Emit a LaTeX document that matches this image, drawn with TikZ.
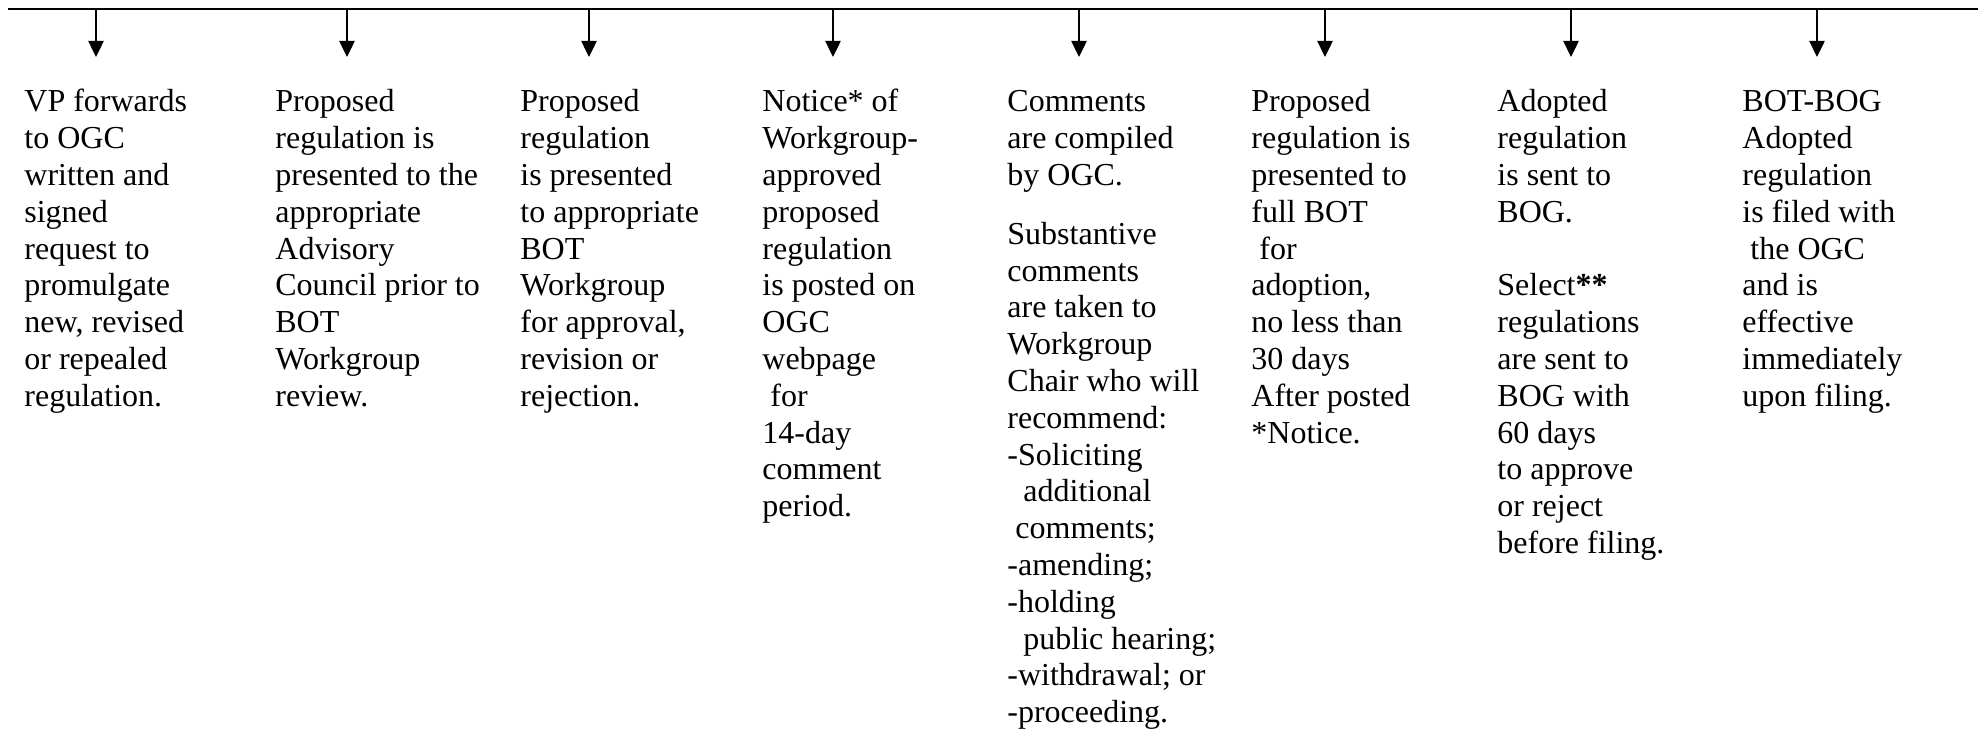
\documentclass[tikz,border=0pt]{standalone}
\usepackage{fontspec}
\setmainfont{Liberation Serif}
\usetikzlibrary{arrows.meta}
\newcommand{\colfont}{\fontsize{16}{18.4}\selectfont}
\newcommand{\indentby}[1]{\hspace*{#1pt}}
\tikzset{
  rule/.style={line width=1.25pt, line cap=butt},
  drop/.style={line width=1.25pt, -{Triangle[length=8pt,width=7.5pt]}},
  coltext/.style={anchor=base west, inner sep=0pt, font=\colfont, align=left}
}
\begin{document}
\begin{tikzpicture}[x=0.5pt,y=-0.5pt]
\useasboundingbox (0,0) rectangle (1978,731);
% top rule
\coordinate (L) at (8,9);
\coordinate (R) at (1978,9);
\draw[rule] (L) -- (R);
% drop points
\foreach \i/\x in {1/96,2/347,3/589,4/833,5/1079,6/1325,7/1571,8/1817}{
  \coordinate (t\i) at (\x,9);
  \coordinate (h\i) at (\x,57);
  \draw[drop] (t\i) -- (h\i);
}
\node[coltext] (c1) at (24,112) {\begin{tabular}[t]{@{}l@{}}VP forwards\\ to OGC\\ written and\\ signed\\ request to\\ promulgate\\ new, revised\\ or repealed\\ regulation.\end{tabular}};
\node[coltext] (c2) at (275,112) {\begin{tabular}[t]{@{}l@{}}Proposed\\ regulation is\\ presented to the\\ appropriate\\ Advisory\\ Council prior to\\ BOT\\ Workgroup\\ review.\end{tabular}};
\node[coltext] (c3) at (520,112) {\begin{tabular}[t]{@{}l@{}}Proposed\\ regulation\\ is presented\\ to appropriate\\ BOT\\ Workgroup\\ for approval,\\ revision or\\ rejection.\end{tabular}};
\node[coltext] (c4) at (762,112) {\begin{tabular}[t]{@{}l@{}}Notice* of\\ Workgroup-\\ approved\\ proposed\\ regulation\\ is posted on\\ OGC\\ webpage\\ \indentby{4}for\\ 14-day\\ comment\\ period.\end{tabular}};
\node[coltext] (c5) at (1007,112) {\begin{tabular}[t]{@{}l@{}}Comments\\ are compiled\\ by OGC.\\[11pt] Substantive\\ comments\\ are taken to\\ Workgroup\\ Chair who will\\ recommend:\\ -Soliciting\\ \indentby{8}additional\\ \indentby{4}comments;\\ -amending;\\ -holding\\ \indentby{8}public hearing;\\ -withdrawal; or\\ -proceeding.\end{tabular}};
\node[coltext] (c6) at (1251,112) {\begin{tabular}[t]{@{}l@{}}Proposed\\ regulation is\\ presented to\\ full BOT\\ \indentby{4}for\\ adoption,\\ no less than\\ 30 days\\ After posted\\ {}*Notice.\end{tabular}};
\node[coltext] (c7) at (1497,112) {\begin{tabular}[t]{@{}l@{}}Adopted\\ regulation\\ is sent to\\ BOG.\\ \\ Select\textbf{**}\\ regulations\\ are sent to\\ BOG with\\ 60 days\\ to approve\\ or reject\\ before filing.\end{tabular}};
\node[coltext] (c8) at (1742,112) {\begin{tabular}[t]{@{}l@{}}BOT-BOG\\ Adopted\\ regulation\\ is filed with\\ \indentby{4}the OGC\\ and is\\ effective\\ immediately\\ upon filing.\end{tabular}};
\end{tikzpicture}
\end{document}
